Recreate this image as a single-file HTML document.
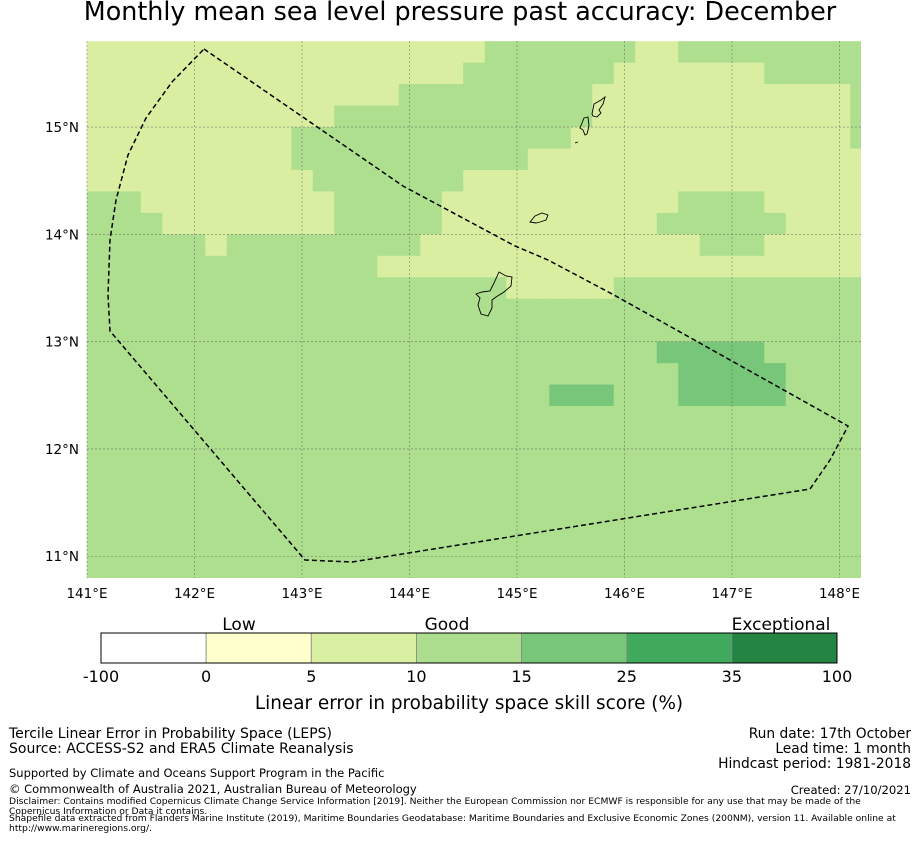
<!DOCTYPE html>
<html><head><meta charset="utf-8"><style>
body{margin:0;background:#fff;font-family:"Liberation Sans","DejaVu Sans",sans-serif}
svg text{font-family:"DejaVu Sans","Liberation Sans",sans-serif}
</style></head><body>
<svg id="chart" width="919" height="839" xmlns="http://www.w3.org/2000/svg">
<text x="460" y="20" font-size="25.4" text-anchor="middle" fill="#000">Monthly mean sea level pressure past accuracy: December</text>
<defs><clipPath id="mapclip"><rect x="87" y="41" width="774" height="537"/></clipPath></defs>
<g id="cells" clip-path="url(#mapclip)"></g>
<g id="grid"></g>
<path d="M204,49 L403,186 L515,246 L548,260 L614,295 L848,426 L846,430 L830,460 L810,489 L352,562 L305,560 L110,331 L108,295 L110,240 L116,200 L128,155 L146,118 L172,82 Z" fill="none" stroke="#000" stroke-width="1.5" stroke-dasharray="5,3"/>
<g fill="none" stroke="#000" stroke-width="0.9">
<path d="M476,294 L482,292 L490,291 L494,283 L499,272 L506,276 L512,277 L511,286 L504,292 L496,297 L492,300 L492,308 L488,316 L481,314 L478,305 L480,298 Z"/>
<path d="M530,222 L535,216 L542,213 L548,215 L546,220 L540,222 L536,223 Z"/>
<path d="M580,128 L584,118 L588,117 L589,126 L587,134 L585,135 L583,130 Z"/>
<path d="M592,114 L594,104 L601,100 L605,97 L603,104 L599,110 L601,113 L597,117 L593,116 Z"/>
<path d="M575,143 L578,142"/>
</g>
<g id="axes" font-size="13.5" fill="#000"></g>
<g id="cbar"></g>
<text x="239" y="630" font-size="17" text-anchor="middle">Low</text>
<text x="447" y="630" font-size="17" text-anchor="middle">Good</text>
<text x="781" y="630" font-size="17" text-anchor="middle">Exceptional</text>
<text x="469" y="709" font-size="18.4" text-anchor="middle">Linear error in probability space skill score (%)</text>
<g font-size="14">
<text x="9" y="738">Tercile Linear Error in Probability Space (LEPS)</text>
<text x="9" y="753">Source: ACCESS-S2 and ERA5 Climate Reanalysis</text>
<text x="9" y="777" font-size="11.5">Supported by Climate and Oceans Support Program in the Pacific</text>
<text x="9" y="793" font-size="11.5">© Commonwealth of Australia 2021, Australian Bureau of Meteorology</text>
<text x="9" y="804" font-size="9.2">Disclaimer: Contains modified Copernicus Climate Change Service Information [2019]. Neither the European Commission nor ECMWF is responsible for any use that may be made of the</text>
<text x="9" y="814" font-size="9.2">Copernicus Information or Data it contains.</text>
<text x="9" y="821" font-size="9.2">Shapefile data extracted from Flanders Marine Institute (2019), Maritime Boundaries Geodatabase: Maritime Boundaries and Exclusive Economic Zones (200NM), version 11. Available online at</text>
<text x="9" y="831" font-size="9.2">http://www.marineregions.org/.</text>
</g>
<g font-size="13.8" text-anchor="end">
<text x="911" y="738">Run date: 17th October</text>
<text x="911" y="753">Lead time: 1 month</text>
<text x="911" y="768">Hindcast period: 1981-2018</text>
<text x="911" y="794" font-size="11.6">Created: 27/10/2021</text>
</g>
</svg>
<script>
// category per grid cell: 1 = 5-10, 2 = 10-15, 3 = 15-25 (rows north->south, cols west->east)
const scoreRows = [
"1111111111111111111222222211222222222",
"1111111111111111112222222111111122222",
"1111111111111112222222221111111111112",
"1111111111112222222222221111111111112",
"1111111111222222222222211111111111112",
"1111111111222222222221111111111111111",
"1111111111122222221111111111111111111",
"2221111111112222211111111111222211111",
"2222111111112222211111111112222221111",
"2222221222222222111111111111122211111",
"2222222222222211111111111111111111111",
"2222222222222222222211111222222222222",
"2222222222222222222222222222222222222",
"2222222222222222222222222222222222222",
"2222222222222222222222222223333322222",
"2222222222222222222222222222333332222",
"2222222222222222222222333222333332222",
"2222222222222222222222222222222222222",
"2222222222222222222222222222222222222",
"2222222222222222222222222222222222222",
"2222222222222222222222222222222222222",
"2222222222222222222222222222222222222",
"2222222222222222222222222222222222222",
"2222222222222222222222222222222222222",
"2222222222222222222222222222222222222"
];
const lonTicks = [141,142,143,144,145,146,147,148];
const latTicks = [11,12,13,14,15];
const cbarBounds = [-100,0,5,10,15,25,35,100];
const cbarColors = ["#ffffff","#ffffcc","#d9f0a3","#addd8e","#78c679","#41ab5d","#238443"];
const cellColors = {"1":"#daeea2","2":"#addf8e","3":"#78c679"};

const NS="http://www.w3.org/2000/svg";
const LON0=141, LON1=148.2, LAT0=10.8, LAT1=15.8;
const xs = lon => 87 + (lon-LON0)*107.5;
const ys = lat => 41.2 + (LAT1-lat)*107.3;
function mk(t,a){const e=document.createElementNS(NS,t);for(const k in a)e.setAttribute(k,a[k]);return e;}

const cells=document.getElementById('cells');
scoreRows.forEach((row,r)=>{
  const latTop=LAT1-0.2*r, latBot=latTop-0.2;
  for(let k=0;k<row.length;k++){
    let l0=Math.max(LON0,140.9+0.2*k), l1=Math.min(LON1,141.1+0.2*k);
    if(l1<=l0) continue;
    const x0=xs(l0), x1=xs(l1), y0=ys(latTop), y1=ys(latBot);
    const el=mk('rect',{x:x0,y:y0,width:x1-x0+0.4,height:y1-y0+0.4,fill:cellColors[row[k]]});
    
    
    cells.appendChild(el);
  }
});

const grid=document.getElementById('grid');
const axes=document.getElementById('axes');
lonTicks.forEach(v=>{
  const x=xs(v);
  const ln=mk('line',{x1:x,x2:x,y1:41,y2:578,stroke:'#555','stroke-width':0.6,'stroke-dasharray':'2,2','stroke-opacity':0.7});
  
  
  grid.appendChild(ln);
  const t=mk('text',{x:x,y:598,'text-anchor':'middle'});
  t.textContent=v+'°E';
  
  
  axes.appendChild(t);
});
latTicks.forEach(v=>{
  const y=ys(v);
  const ln=mk('line',{x1:87,x2:861,y1:y,y2:y,stroke:'#555','stroke-width':0.6,'stroke-dasharray':'2,2','stroke-opacity':0.7});
  
  
  grid.appendChild(ln);
  const t=mk('text',{x:79,y:y+5,'text-anchor':'end'});
  t.textContent=v+'°N';
  
  
  axes.appendChild(t);
});

const cb=document.getElementById('cbar');
const cbX0=101, cbX1=837, n=cbarColors.length, w=(cbX1-cbX0)/n;
cbarColors.forEach((c,i)=>{
  const r=mk('rect',{x:cbX0+i*w,y:633,width:w,height:30,fill:c,stroke:'#888','stroke-width':0.8});
  
  
  cb.appendChild(r);
});
const fr=mk('rect',{x:cbX0,y:633,width:cbX1-cbX0,height:30,fill:'none',stroke:'#000','stroke-width':1});


cb.appendChild(fr);
cbarBounds.forEach((v,i)=>{
  const t=mk('text',{x:cbX0+i*w,y:682,'text-anchor':'middle','font-size':16});
  t.textContent=v;
  
  
  cb.appendChild(t);
});
</script>
</body></html>
